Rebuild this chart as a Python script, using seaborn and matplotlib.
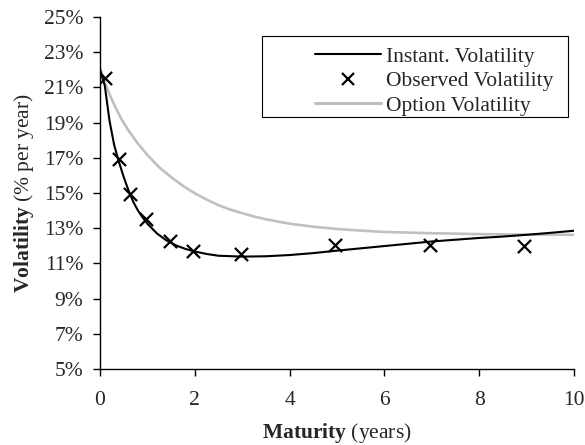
import numpy as np
import pandas as pd
import seaborn as sns
import matplotlib
matplotlib.use("Agg")
import matplotlib.pyplot as plt
from matplotlib.patches import Rectangle
from matplotlib.lines import Line2D

#%% datos (vol en % por año)

inst_t = [0.0, 0.1, 0.15, 0.2, 0.3, 0.4, 0.5, 0.6, 0.7, 0.8, 0.9, 1.0, 1.2, 1.4, 1.6, 1.8,
          2.0, 2.25, 2.5, 3.0, 3.5, 4.0, 4.5, 5.0, 5.5, 6.0, 7.0, 8.0, 8.5, 9.0, 9.5, 10.0]
inst_vol = [22.0, 21.1, 20.1, 19.1, 17.7, 16.75, 15.9, 15.15, 14.5, 14.0, 13.6, 13.25, 12.7, 12.3, 12.02, 11.82,
            11.67, 11.53, 11.43, 11.38, 11.4, 11.47, 11.58, 11.72, 11.85, 11.98, 12.24, 12.44, 12.52, 12.62, 12.73, 12.85]

opt_t = [0.0, 0.1, 0.2, 0.3, 0.45, 0.6, 0.8, 1.0, 1.25, 1.5, 1.75, 2.0, 2.25, 2.5, 2.75, 3.0,
         3.25, 3.5, 4.0, 4.5, 5.0, 5.5, 6.0, 7.0, 8.0, 9.0, 10.0]
opt_vol = [22.1, 21.3, 20.6, 20.0, 19.2, 18.55, 17.8, 17.15, 16.45, 15.9, 15.4, 14.98, 14.62, 14.3, 14.05, 13.85,
           13.66, 13.5, 13.25, 13.08, 12.95, 12.86, 12.78, 12.71, 12.66, 12.63, 12.62]

obs_t = [0.1, 0.4, 0.64, 0.97, 1.48, 1.97, 2.97, 4.96, 6.96, 8.95]
obs_vol = [21.52, 16.93, 14.94, 13.52, 12.29, 11.70, 11.53, 12.03, 12.05, 11.99]

etiquetas = ["Instant. Volatility", "Observed Volatility", "Option Volatility"]

df_inst = pd.DataFrame({"t": inst_t, "vol": inst_vol})
df_opt = pd.DataFrame({"t": opt_t, "vol": opt_vol})
df_obs = pd.DataFrame({"t": obs_t, "vol": obs_vol})

#%% Gráfica
sns.set_style("white")
plt.rcParams['font.family'] = ['Liberation Serif', 'DejaVu Serif']
plt.rcParams['mathtext.fontset'] = 'custom'
plt.rcParams['mathtext.rm'] = 'Liberation Serif'
plt.rcParams['mathtext.bf'] = 'Liberation Serif:bold'

fs = 15.5
fig = plt.figure(figsize=(5.85, 4.45), dpi=100)
ax = fig.add_axes([0.171, 0.171, 0.81, 0.791])

gris = "#c0c0c0"
sns.lineplot(data=df_opt, x="t", y="vol", color=gris, linewidth=1.9, ax=ax, estimator=None, sort=False)
sns.lineplot(data=df_inst, x="t", y="vol", color="black", linewidth=1.5, ax=ax, estimator=None, sort=False)
sns.scatterplot(data=df_obs, x="t", y="vol", marker="x", s=90, color="black", linewidth=1.6, ax=ax, zorder=5)

ax.set_xlim(0, 10)
ax.set_ylim(5, 25)
ax.set_xticks(range(0, 11, 2))
ax.set_yticks(range(5, 26, 2))
ax.set_yticklabels(["%d%%" % v for v in range(5, 26, 2)])
ax.tick_params(axis="both", labelsize=fs, direction="out", length=5, width=1, color="black",
               left=True, bottom=True)
ax.tick_params(axis="y", pad=7)
ax.tick_params(axis="x", pad=11)
for s in ["top", "right"]:
    ax.spines[s].set_visible(False)
for s in ["left", "bottom"]:
    ax.spines[s].set_color("black")
    ax.spines[s].set_linewidth(1)

ax.set_xlabel(r"$\bf{Maturity}$ (years)", fontsize=fs, labelpad=8)
ax.set_ylabel(r"$\bf{Volatility}$ (% per year)", fontsize=fs, labelpad=6)

# leyenda estilo excel
ax.add_patch(Rectangle((0.341, 0.716), 0.646, 0.231, transform=ax.transAxes, fill=False,
                       edgecolor="black", linewidth=0.8, zorder=6))
handles = [Line2D([], [], color="black", linewidth=1.5),
           Line2D([], [], color="black", marker="x", linestyle="none", markersize=9, markeredgewidth=1.6),
           Line2D([], [], color=gris, linewidth=2.2)]
leg = ax.legend(handles, etiquetas, loc="upper left", bbox_to_anchor=(0.453, 0.915), frameon=False,
                fontsize=fs, handlelength=3.1, handletextpad=0.23, borderpad=0, borderaxespad=0,
                labelspacing=0.2)

fig.savefig("out.png", dpi=100)
